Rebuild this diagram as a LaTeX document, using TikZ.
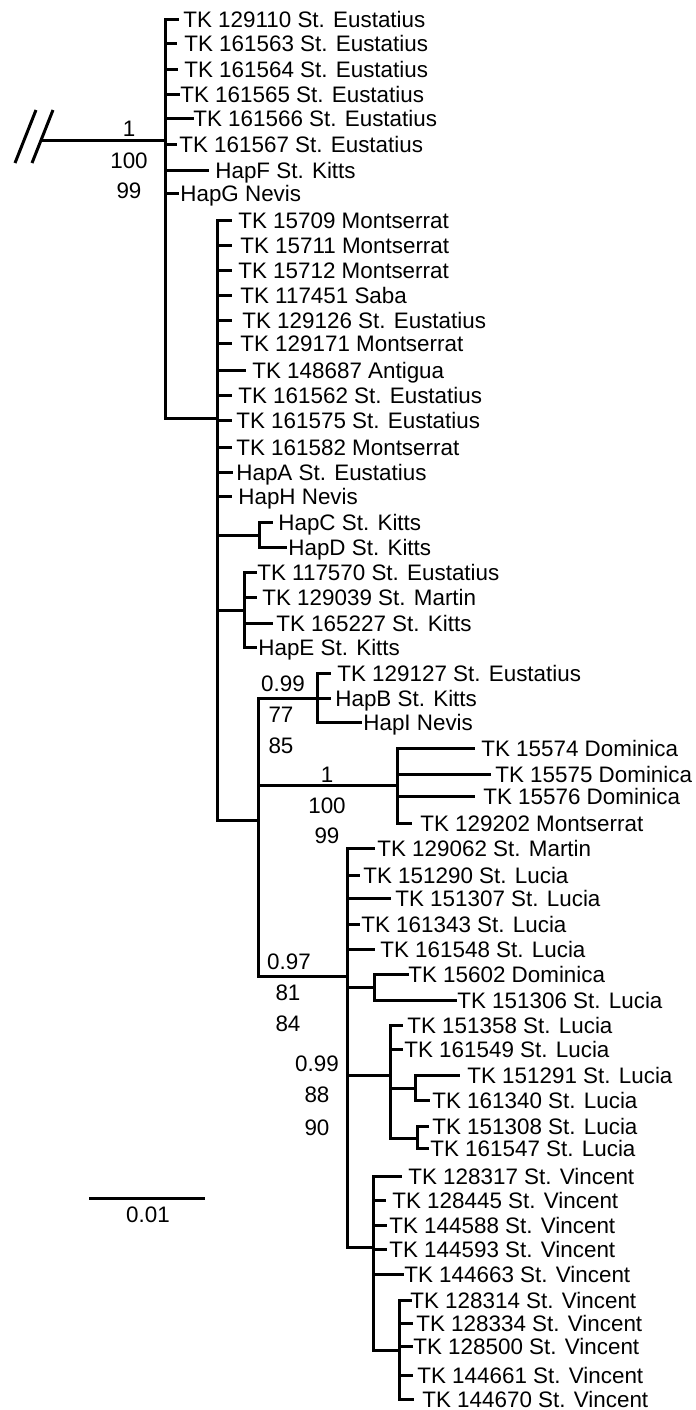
\documentclass[tikz,border=0pt]{standalone}
\usepackage{fontspec}
\setmainfont{Liberation Sans}
\usepackage{tikz}
\usetikzlibrary{calc}

% one terminal taxon: name, parent node, y, end of tick, start of text, text
\newcommand{\taxon}[6]{%
  \coordinate (#1) at (#4,#3);
  \node[tip] (#1-l) at (#5,#3) {#6};
  \draw[branch] (#2) |- (#1);
}

\begin{document}
\begin{tikzpicture}[x=0.5pt, y=-0.5pt,
    branch/.style={line width=1.5pt, line cap=rect},
    tip/.style={anchor=west, inner sep=0pt, text height=8pt, text depth=0pt,
      font=\fontsize{11.2}{13}\selectfont},
    support/.style={anchor=center, inner sep=0pt, text height=8pt, text depth=0pt,
      font=\fontsize{11.2}{13}\selectfont}]
    \useasboundingbox (0,0) rectangle (696,1410);
    % Root with the cut mark
    \coordinate (root) at (42,140);
    \coordinate (n1) at (165,140);
    \draw[branch] (root) -- (n1);
    \draw[line width=1.5pt] (15,163) -- (36,110);
    \draw[line width=1.5pt] (32,163) -- (53,110);
    \node[support] (s1a) at (129,128) {1};
    \node[support] (s1b) at (129,160) {100};
    \node[support] (s1c) at (129,190) {99};
    % Eustatius group
    \taxon{t129110}{n1}{19}{177}{183}{TK 129110 St. Eustatius}
    \taxon{t161563}{n1}{43}{175}{184}{TK 161563 St. Eustatius}
    \taxon{t161564}{n1}{69}{176}{184}{TK 161564 St. Eustatius}
    \taxon{t161565}{n1}{94}{178}{180}{TK 161565 St. Eustatius}
    \taxon{t161566}{n1}{118}{192}{193}{TK 161566 St. Eustatius}
    \taxon{t161567}{n1}{144}{175}{179}{TK 161567 St. Eustatius}
    \taxon{hapF}{n1}{170}{207}{215}{HapF St. Kitts}
    \taxon{hapG}{n1}{193}{177}{180}{HapG Nevis}
    % Northern Lesser Antilles
    \coordinate (n2) at (217,418);
    \draw[branch] (n1) |- (n2);
    \taxon{t15709}{n2}{220}{230}{238}{TK 15709 Montserrat}
    \taxon{t15711}{n2}{245}{230}{240}{TK 15711 Montserrat}
    \taxon{t15712}{n2}{270}{230}{238}{TK 15712 Montserrat}
    \taxon{t117451}{n2}{295}{230}{240}{TK 117451 Saba}
    \taxon{t129126}{n2}{320}{230}{242}{TK 129126 St. Eustatius}
    \taxon{t129171}{n2}{343}{230}{240}{TK 129171 Montserrat}
    \taxon{t148687}{n2}{370}{244}{252}{TK 148687 Antigua}
    \taxon{t161562}{n2}{395}{230}{238}{TK 161562 St. Eustatius}
    \taxon{t161575}{n2}{420}{230}{236}{TK 161575 St. Eustatius}
    \taxon{t161582}{n2}{447}{230}{236}{TK 161582 Montserrat}
    \taxon{hapA}{n2}{472}{231}{236}{HapA St. Eustatius}
    \taxon{hapH}{n2}{496}{230}{238}{HapH Nevis}
    \coordinate (n3) at (259,535);
    \draw[branch] (n2) |- (n3);
    \taxon{hapC}{n3}{522}{271}{278}{HapC St. Kitts}
    \taxon{hapD}{n3}{547}{285}{288}{HapD St. Kitts}
    \coordinate (n4) at (244,610);
    \draw[branch] (n2) |- (n4);
    \taxon{t117570}{n4}{572}{255}{257}{TK 117570 St. Eustatius}
    \taxon{t129039}{n4}{597}{255}{262}{TK 129039 St. Martin}
    \taxon{t165227}{n4}{623}{271}{276}{TK 165227 St. Kitts}
    \taxon{hapE}{n4}{647}{255}{258}{HapE St. Kitts}
    \coordinate (n5) at (258,820);
    \draw[branch] (n2) |- (n5);
    % Kitts and Nevis
    \coordinate (n6) at (317,698);
    \draw[branch] (n5) |- (n6);
    \taxon{t129127}{n6}{673}{329}{337}{TK 129127 St. Eustatius}
    \taxon{hapB}{n6}{698}{329}{335}{HapB St. Kitts}
    \taxon{hapI}{n6}{722}{360}{363}{HapI Nevis}
    \node[support] (s6a) at (283,683) {0.99};
    \node[support] (s6b) at (281,714) {77};
    \node[support] (s6c) at (281,745) {85};
    % Dominica
    \coordinate (n7) at (397,785);
    \draw[branch] (n5) |- (n7);
    \taxon{t15574}{n7}{748}{473}{481}{TK 15574 Dominica}
    \taxon{t15575}{n7}{774}{489}{495}{TK 15575 Dominica}
    \taxon{t15576}{n7}{796}{473}{483}{TK 15576 Dominica}
    \taxon{t129202}{n7}{823}{410}{420}{TK 129202 Montserrat}
    \node[support] (s7a) at (327,774) {1};
    \node[support] (s7b) at (327,805) {100};
    \node[support] (s7c) at (327,835) {99};
    % Southern group
    \coordinate (n8) at (347,976);
    \draw[branch] (n5) |- (n8);
    \node[support] (s8a) at (289,961) {0.97};
    \node[support] (s8b) at (288,992) {81};
    \node[support] (s8c) at (288,1023) {84};
    \taxon{t129062}{n8}{848}{373}{377}{TK 129062 St. Martin}
    \taxon{t151290}{n8}{875}{358}{363}{TK 151290 St. Lucia}
    \taxon{t151307}{n8}{898}{389}{395}{TK 151307 St. Lucia}
    \taxon{t161343}{n8}{924}{358}{361}{TK 161343 St. Lucia}
    \taxon{t161548}{n8}{949}{373}{380}{TK 161548 St. Lucia}
    \coordinate (n9) at (374,987);
    \draw[branch] (n8) |- (n9);
    \taxon{t15602}{n9}{974}{407}{408}{TK 15602 Dominica}
    \taxon{t151306}{n9}{1000}{455}{457}{TK 151306 St. Lucia}
    % St. Lucia
    \coordinate (n10) at (390,1075);
    \draw[branch] (n8) |- (n10);
    \node[support] (s10a) at (317,1063) {0.99};
    \node[support] (s10b) at (317,1094) {88};
    \node[support] (s10c) at (317,1127) {90};
    \taxon{t151358}{n10}{1025}{401}{407}{TK 151358 St. Lucia}
    \taxon{t161549}{n10}{1049}{401}{404}{TK 161549 St. Lucia}
    \coordinate (n11) at (415,1088);
    \draw[branch] (n10) |- (n11);
    \taxon{t151291}{n11}{1075}{458}{467}{TK 151291 St. Lucia}
    \taxon{t161340}{n11}{1100}{428}{432}{TK 161340 St. Lucia}
    \coordinate (n12) at (417,1138);
    \draw[branch] (n10) |- (n12);
    \taxon{t151308}{n12}{1126}{427}{432}{TK 151308 St. Lucia}
    \taxon{t161547}{n12}{1148}{427}{430}{TK 161547 St. Lucia}
    % St. Vincent
    \coordinate (n13) at (373,1247);
    \draw[branch] (n8) |- (n13);
    \taxon{t128317}{n13}{1176}{400}{408}{TK 128317 St. Vincent}
    \taxon{t128445}{n13}{1200}{384}{392}{TK 128445 St. Vincent}
    \taxon{t144588}{n13}{1225}{385}{389}{TK 144588 St. Vincent}
    \taxon{t144593}{n13}{1249}{385}{389}{TK 144593 St. Vincent}
    \taxon{t144663}{n13}{1274}{402}{404}{TK 144663 St. Vincent}
    \coordinate (n14) at (399,1350);
    \draw[branch] (n13) |- (n14);
    \taxon{t128314}{n14}{1300}{410}{410}{TK 128314 St. Vincent}
    \taxon{t128334}{n14}{1323}{411}{416}{TK 128334 St. Vincent}
    \taxon{t128500}{n14}{1346}{411}{413}{TK 128500 St. Vincent}
    \taxon{t144661}{n14}{1375}{411}{417}{TK 144661 St. Vincent}
    \taxon{t144670}{n14}{1399}{412}{422}{TK 144670 St. Vincent}
    % Scale bar
    \coordinate (barL) at (89,1198);
    \coordinate (barR) at (205,1198);
    \draw[line width=1.5pt] (barL) -- (barR);
    \node[support] (bar) at (148,1214) {0.01};
\end{tikzpicture}
\end{document}
